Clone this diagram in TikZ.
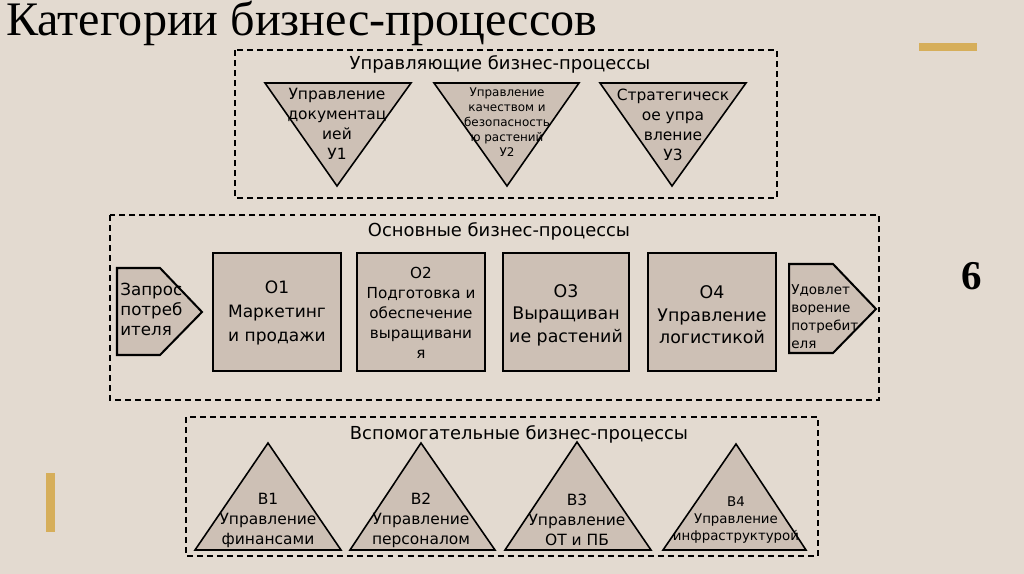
\documentclass[tikz,border=0pt]{standalone}
\usepackage{fontspec}
\setmainfont{DejaVu Sans}
\newfontfamily\titlefont{Liberation Serif}
\definecolor{bg}{RGB}{227,218,208}
\definecolor{shp}{RGB}{205,192,181}
\definecolor{gold}{RGB}{214,174,90}
\newcommand\setfs[2]{\fontsize{#1pt}{#2pt}\selectfont}
\begin{document}
\begin{tikzpicture}[x=0.02cm,y=-0.02cm,
  shapebox/.style={draw=black, fill=shp, line width=0.9pt, line join=miter},
  boxrect/.style={shapebox, line width=1.15pt},
  grp/.style={draw=black, dash pattern=on 3.4pt off 2.3pt, line width=0.8pt},
  lbl/.style={inner sep=0pt, align=center, text=black},
  lbll/.style={inner sep=0pt, align=left, text=black, anchor=west}]
\fill[bg] (0,0) rectangle (1024,574);
\useasboundingbox (0,0) rectangle (1024,574);
% title and decorations
\node[anchor=base west, inner sep=0pt, font=\titlefont\setfs{27.4}{30}] (title) at (6,36) {Категории бизнес-процессов};
\fill[gold] (919,43) rectangle (977,51);
\fill[gold] (46,473) rectangle (55,532);
\node[lbl, font=\titlefont\bfseries\setfs{23.3}{26}] (six) at (972,276) {6};
% group frames
\draw[grp] (235,50) rectangle (777,198);
\draw[grp] (110,215) rectangle (879,400);
\draw[grp] (186,417) rectangle (818,556);
\node[lbl, font=\setfs{10.2}{12}] (gU) at (500,64) {Управляющие бизнес-процессы};
\node[lbl, font=\setfs{10.2}{12}] (gO) at (499,231) {Основные бизнес-процессы};
\node[lbl, font=\setfs{10.2}{12}] (gV) at (519,434) {Вспомогательные бизнес-процессы};
% top triangles
\draw[shapebox] (265,83) -- (411,83) -- (337,186) -- cycle;
\draw[shapebox] (434,83) -- (579,83) -- (507,186) -- cycle;
\draw[shapebox] (600,83) -- (746,83) -- (672,186) -- cycle;
\node[lbl, font=\setfs{8.8}{11.4}] (u1) at (337,124) {Управление\\документац\\ией\\У1};
\node[lbl, font=\setfs{6.8}{8.5}] (u2) at (507,122) {Управление\\качеством и\\безопасность\\ю растений\\У2};
\node[lbl, font=\setfs{8.8}{11.4}] (u3) at (673,125) {Стратегическ\\ое упра\\вление\\У3};
% middle row
\draw[boxrect] (117,268) -- (160,268) -- (202,312) -- (160,355) -- (117,355) -- cycle;
\draw[boxrect] (213,253) rectangle (341,371);
\draw[boxrect] (357,253) rectangle (485,371);
\draw[boxrect] (503,253) rectangle (629,371);
\draw[boxrect] (648,253) rectangle (776,371);
\draw[boxrect] (789,264) -- (833,264) -- (876,309) -- (833,353) -- (789,353) -- cycle;
\node[lbll, font=\setfs{9.5}{11.4}] (zap) at (120,309) {Запрос\\потреб\\ителя};
\node[lbl, font=\setfs{9.7}{13.7}] (o1) at (277,313) {О1\\Маркетинг\\и продажи};
\node[lbl, font=\setfs{8.65}{11.4}] (o2) at (421,313) {О2\\Подготовка и\\обеспечение\\выращивани\\я};
\node[lbl, font=\setfs{9.9}{12.8}] (o3) at (566,315) {О3\\Выращиван\\ие растений};
\node[lbl, font=\setfs{9.9}{12.8}] (o4) at (712,315) {О4\\Управление\\логистикой};
\node[lbll, font=\setfs{7.7}{10.2}] (udv) at (791,317) {Удовлет\\ворение\\потребит\\еля};
% bottom triangles
\draw[shapebox] (195,550) -- (341,550) -- (268,443) -- cycle;
\draw[shapebox] (350,550) -- (495,550) -- (421,443) -- cycle;
\draw[shapebox] (505,550) -- (651,550) -- (577,442) -- cycle;
\draw[shapebox] (663,550) -- (806,550) -- (736,444) -- cycle;
\node[lbl, font=\setfs{8.8}{11.4}] (b1) at (268,520) {В1\\Управление\\финансами};
\node[lbl, font=\setfs{8.8}{11.4}] (b2) at (421,520) {В2\\Управление\\персоналом};
\node[lbl, font=\setfs{8.8}{11.4}] (b3) at (577,520) {В3\\Управление\\ОТ и ПБ};
\node[lbl, font=\setfs{7.6}{9.7}] (b4) at (736,520) {В4\\Управление\\инфраструктурой};
\end{tikzpicture}
\end{document}
